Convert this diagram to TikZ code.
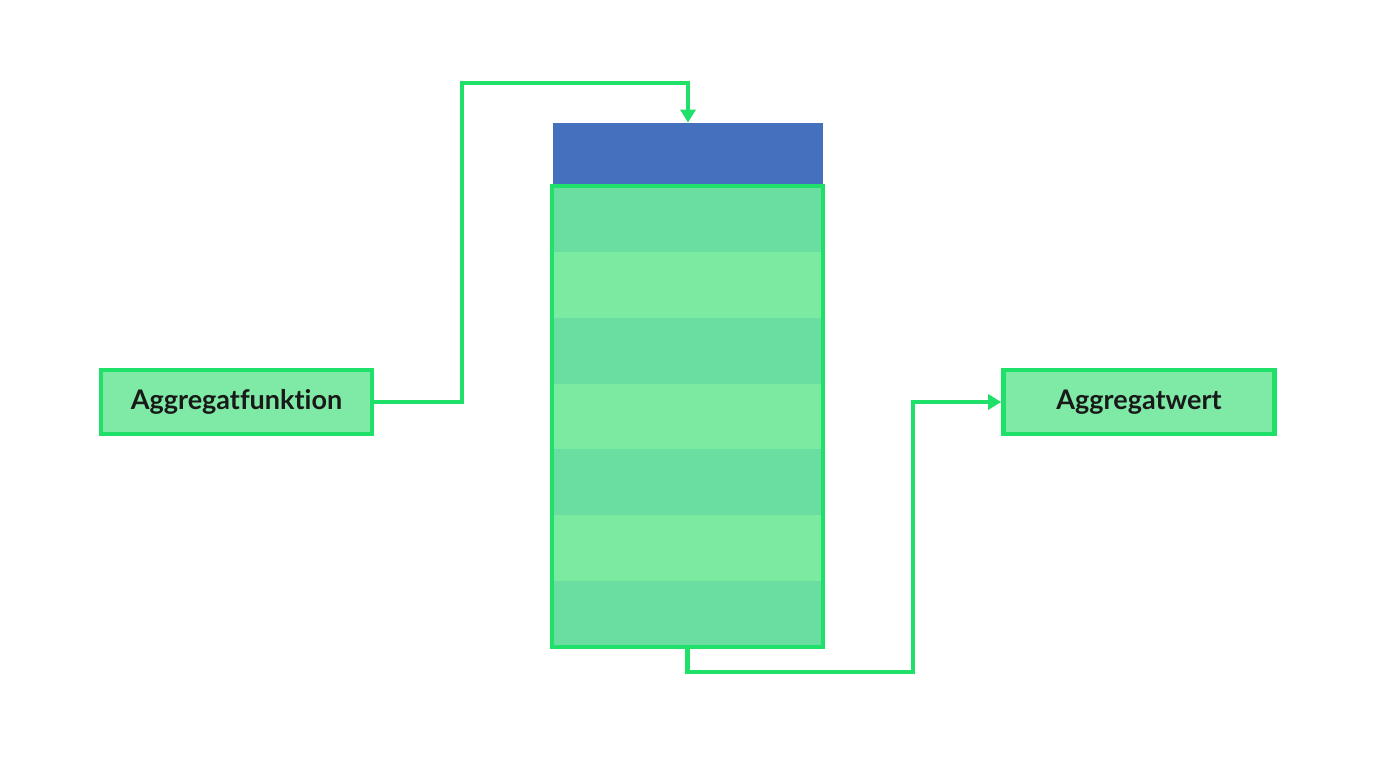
\documentclass[tikz,border=0pt]{standalone}
\usepackage{fontspec}
\setmainfont[Ligatures=NoCommon]{Lato}
\usetikzlibrary{arrows.meta}
\definecolor{edge}{HTML}{1FE068}
\definecolor{boxfill}{HTML}{7FEAA6}
\definecolor{rowdark}{HTML}{6ADEA0}
\definecolor{rowlight}{HTML}{7CEBA2}
\definecolor{hdrblue}{HTML}{4470BE}
\tikzset{
  labelbox/.style={draw=edge, line width=2.3pt, fill=boxfill, minimum width=135.5pt, minimum height=32pt, inner sep=0pt, font=\fontsize{13.5}{15}\selectfont\bfseries, text=black!90},
  conn/.style={draw=edge, line width=2.3pt, -{Triangle[length=6.5pt,width=7.5pt]}}
}
\begin{document}
\begin{tikzpicture}[x=0.5pt,y=-0.5pt]
\useasboundingbox (0,0) rectangle (1376,768);
\fill[white] (0,0) rectangle (1376,768);
% header
\node[fill=hdrblue, minimum width=135pt, minimum height=30.5pt, inner sep=0pt] (hdr) at (688,153.5) {};
% stripes
\foreach \i in {0,...,6} {
  \pgfmathsetmacro{\ya}{186+\i*65.857}
  \pgfmathsetmacro{\yb}{186+(\i+1)*65.857}
  \pgfmathtruncatemacro{\odd}{mod(\i,2)}
  \ifnum\odd=0
    \fill[rowdark] (552,\ya) rectangle (823,\yb);
  \else
    \fill[rowlight] (552,\ya) rectangle (823,\yb);
  \fi
}
\node[draw=edge, line width=2.3pt, minimum width=135.5pt, minimum height=230.5pt, inner sep=0pt] (tbl) at (687.5,416.5) {};
% side boxes
\node[labelbox] (lf) at (236.5,402) {Aggregatfunktion};
\node[labelbox] (rt) at (1139,402) {Aggregatwert};
% connectors
\draw[conn] (lf.east) -- (462,402) -- (462,83) -- (688,83) -- (hdr.north);
\draw[conn] (tbl.south) -- (687.5,672) -- (913,672) -- (913,402) -- (rt.west);
\end{tikzpicture}
\end{document}
